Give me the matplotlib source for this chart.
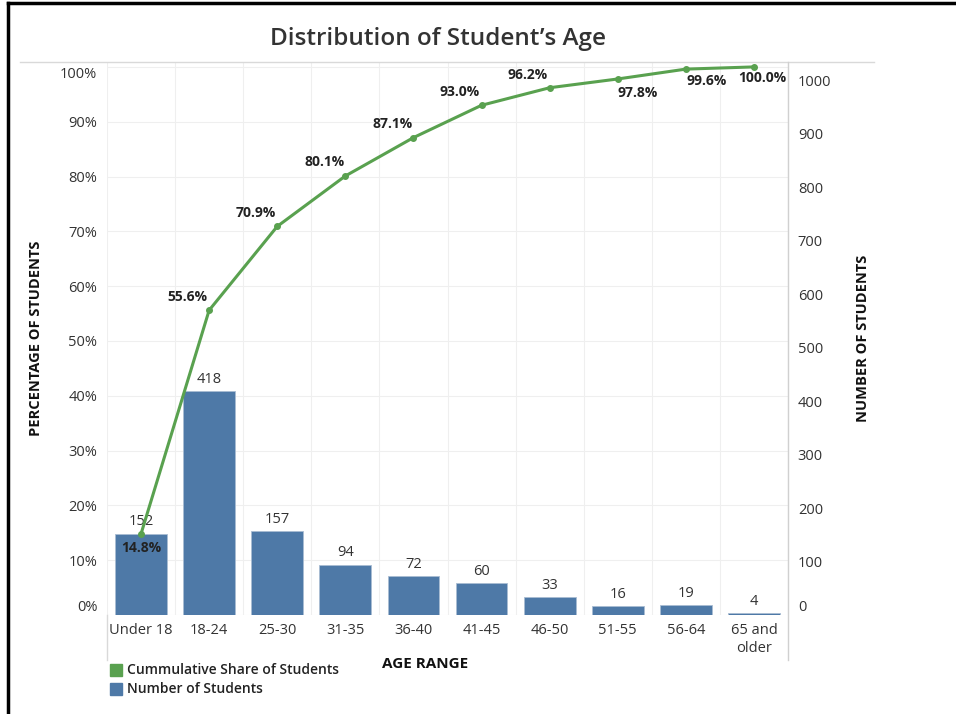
'''
Distribution of student's age: bar chart of counts with cumulative share line.
'''

import matplotlib
matplotlib.use('Agg')
import matplotlib.pyplot as plt
from matplotlib.lines import Line2D

plt.rcParams['font.family'] = ['Open Sans', 'DejaVu Sans']

# Data
age_ranges = ['Under 18', '18-24', '25-30', '31-35', '36-40', '41-45',
              '46-50', '51-55', '56-64', '65 and\nolder']
students = [152, 418, 157, 94, 72, 60, 33, 16, 19, 4]
cum_share = [14.8, 55.6, 70.9, 80.1, 87.1, 93.0, 96.2, 97.8, 99.6, 100.0]
pct_ticks = [0, 10, 20, 30, 40, 50, 60, 70, 80, 90, 100]
count_ticks = [0, 100, 200, 300, 400, 500, 600, 700, 800, 900, 1000]

total = sum(students)
bar_color = '#4e79a7'
line_color = '#59a14f'
text_color = '#333333'

# label offsets (pixels) for the cumulative labels
pct_offsets = [(0, -14), (-22, 13), (-21, 13), (-21, 14), (-21, 14),
               (-22, 13), (-22, 13), (20, -14), (21, -12), (8, -11)]

fig = plt.figure(figsize=(9.56, 7.14), dpi=100)
ax = fig.add_axes([0.1119, 0.1387, 0.7124, 0.7745])
ax2 = ax.twinx()

x = list(range(len(age_ranges)))

# bars on the count axis (right)
ax2.bar(x, students, width=0.76, color=bar_color, edgecolor='#a9bdd3',
        linewidth=0.6, zorder=2)
for xi, n in zip(x, students):
    ax2.text(xi, n + 8, str(n), ha='center', va='bottom', fontsize=10.5,
             color=text_color, zorder=5)

top = total * 1.009
ax2.set_ylim(0, top)
ax.set_ylim(0, top / total * 100)
ax.set_xlim(-0.5, len(age_ranges) - 0.5)

# cumulative line drawn on top
ax3 = ax.twinx()
ax3.set_ylim(ax.get_ylim())
ax3.axis('off')
ax3.plot(x, cum_share, color=line_color, linewidth=2.2, marker='o',
         markersize=4, zorder=4)
for xi, v, off in zip(x, cum_share, pct_offsets):
    ax3.annotate(f'{v:.1f}%', (xi, v), xytext=off, textcoords='offset pixels',
                 ha='center', va='center', fontsize=10, fontweight='bold',
                 color='#222222')

# gridlines
for t in pct_ticks:
    ax.axhline(t, color='#efefef', linewidth=0.8, zorder=0)
for b in range(len(age_ranges) + 1):
    ax.axvline(b - 0.5, color='#efefef', linewidth=0.8, zorder=0)

for a in (ax, ax2):
    for s in a.spines.values():
        s.set_visible(False)
    a.tick_params(length=0, colors=text_color, labelsize=10.5)

ax.set_xticks(x)
ax.set_xticklabels(age_ranges, fontsize=10.5, color=text_color, va='top')
ax.tick_params(axis='x', pad=6)

ax.set_yticks(pct_ticks)
ax.set_yticklabels([f'{t}%' for t in pct_ticks])
ax.tick_params(axis='y', pad=7)
ax2.set_yticks(count_ticks)
ax2.set_yticklabels([str(t) for t in count_ticks])
ax2.tick_params(axis='y', pad=7)
ax.get_yticklabels()[0].set_va('bottom')
ax2.get_yticklabels()[0].set_va('bottom')
ax.get_yticklabels()[-1].set_va('top')

ax.set_ylabel('PERCENTAGE OF STUDENTS', fontsize=10.5, fontweight='bold',
              color='#111111', labelpad=12)
ax2.set_ylabel('NUMBER OF STUDENTS', fontsize=10.5, fontweight='bold',
               color='#111111', labelpad=18)
ax.set_xlabel('AGE RANGE', fontsize=11, fontweight='bold', color='#111111')
ax.xaxis.set_label_coords(0.467, -0.076)

fig.text(0.458, 0.946, 'Distribution of Student\u2019s Age', ha='center',
         va='center', fontsize=17.5, fontweight='semibold', color='#333333')

# Tableau-style separators and outer frame
fig.add_artist(Line2D([20 / 956, 874 / 956], [1 - 62 / 714] * 2,
                      color='#d9d9d9', linewidth=1))
fig.add_artist(Line2D([788 / 956] * 2, [1 - 62 / 714, 1 - 660 / 714],
                      color='#d0d0d0', linewidth=1))
fig.add_artist(Line2D([107 / 956] * 2, [1 - 615 / 714, 1 - 660 / 714],
                      color='#d9d9d9', linewidth=1))
fig.add_artist(Line2D([8 / 956] * 2, [1 - 3 / 714, 0], color='black',
                      linewidth=2.5))
fig.add_artist(Line2D([8 / 956, 1], [1 - 3 / 714] * 2, color='black',
                      linewidth=2.5))

# legend
fig.patches.append(plt.Rectangle((110 / 956, 1 - 676 / 714), 12 / 956,
                                 12 / 714, transform=fig.transFigure,
                                 color=line_color, figure=fig))
fig.patches.append(plt.Rectangle((110 / 956, 1 - 695 / 714), 12 / 956,
                                 12 / 714, transform=fig.transFigure,
                                 color=bar_color, figure=fig))
fig.text(127 / 956, 1 - 670 / 714, 'Cummulative Share of Students',
         va='center', fontsize=10, fontweight='semibold', color='#222222')
fig.text(127 / 956, 1 - 689 / 714, 'Number of Students',
         va='center', fontsize=10, fontweight='semibold', color='#222222')

fig.savefig('out.png', dpi=100)
